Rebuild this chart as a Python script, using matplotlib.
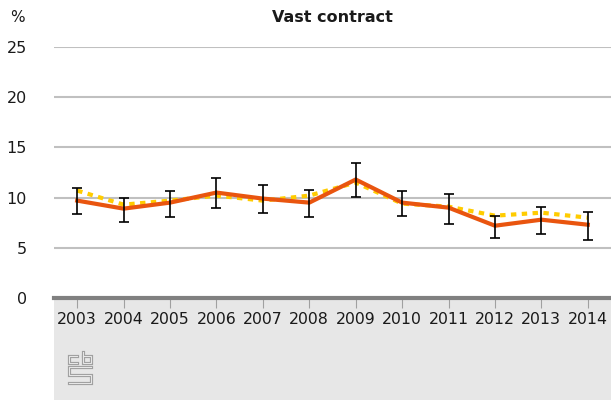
import matplotlib
matplotlib.use("Agg")
import matplotlib.pyplot as plt
from matplotlib.patches import Rectangle
from matplotlib.lines import Line2D

# Data
years = ['2003', '2004', '2005', '2006', '2007', '2008',
         '2009', '2010', '2011', '2012', '2013', '2014']
vast = [9.7, 8.9, 9.5, 10.5, 9.9, 9.5, 11.8, 9.5, 9.0, 7.2, 7.8, 7.3]
vast_low = [8.4, 7.6, 8.1, 9.0, 8.5, 8.1, 10.1, 8.2, 7.4, 6.0, 6.4, 5.8]
vast_high = [11.0, 10.0, 10.7, 12.0, 11.3, 10.8, 13.4, 10.7, 10.4, 8.2, 9.1, 8.6]
trend = [10.7, 9.3, 9.7, 10.2, 9.7, 10.2, 11.5, 9.4, 9.1, 8.2, 8.5, 8.0]

W, H = 611, 400
fig = plt.figure(figsize=(W / 100, H / 100), dpi=100)
plt.rcParams['font.family'] = ['DejaVu Sans']

ax_left, ax_right, ax_top, ax_bottom = 54, 611, 47, 298
ax = fig.add_axes([ax_left / W, 1 - ax_bottom / H,
                   (ax_right - ax_left) / W, (ax_bottom - ax_top) / H])

# grijze band onder de as
band = Rectangle((ax_left / W, 0), (ax_right - ax_left) / W, 1 - ax_bottom / H,
                 transform=fig.transFigure, facecolor='#e7e7e7',
                 edgecolor='none', zorder=-2)
fig.patches.append(band)

# cbs logo (pixel coordinaten, y vanaf boven)
def px_line(xs, ys, **kw):
    return Line2D([x / W for x in xs], [1 - y / H for y in ys],
                  transform=fig.transFigure, **kw)

logo_paths = [
    ([76.7, 68.6, 68.6, 76.7], [355.6, 355.6, 362.8, 362.8]),
    ([83.0, 83.0, 91.4, 91.4, 83.0], [351.7, 362.8, 362.8, 355.6, 355.6]),
    ([91.4, 68.6, 68.6, 91.4, 91.4, 68.6], [367.4, 367.4, 375.0, 375.0, 383.0, 383.0]),
]
for xs, ys in logo_paths:
    fig.lines.append(px_line(xs, ys, color='#a0a0a0', lw=2.3, zorder=-1,
                             solid_joinstyle='miter', solid_capstyle='projecting'))
    fig.lines.append(px_line(xs, ys, color='#e7e7e7', lw=0.75, zorder=-1,
                             solid_joinstyle='miter', solid_capstyle='projecting'))

x = list(range(len(years)))

ax.plot(x, trend, color='#ffcc00', lw=3, linestyle=(0, (1.3, 1.3)),
        dash_capstyle='butt', zorder=3)
ax.plot(x, vast, color='#e9550f', lw=3, zorder=4, solid_joinstyle='miter')
err = [[v - lo for v, lo in zip(vast, vast_low)],
       [hi - v for v, hi in zip(vast, vast_high)]]
ax.errorbar(x, vast, yerr=err, fmt='none', ecolor='black', elinewidth=1.2,
            capsize=3.5, capthick=1.2, zorder=5)

ax.set_xlim(-0.5, len(years) - 0.5)
ax.set_ylim(0, 25)
ax.set_yticks([0, 5, 10, 15, 20, 25])
ax.set_xticks(x)
ax.set_xticklabels(years)
ax.grid(axis='y', color='#c0c0c0', lw=1.5)
ax.set_axisbelow(True)
ax.patch.set_alpha(0)

for s in ['top', 'right', 'left']:
    ax.spines[s].set_visible(False)
ax.spines['bottom'].set_color('#808080')
ax.spines['bottom'].set_linewidth(3)
ax.spines['bottom'].set_zorder(6)

ax.tick_params(axis='y', length=0, pad=19.5, labelsize=11.5, labelcolor='#1a1a1a')
ax.tick_params(axis='x', length=7, width=0.8, color='#a0a0a0', pad=3,
               labelsize=11.3, labelcolor='#1a1a1a')
ax.yaxis.get_major_ticks()[0].gridline.set_visible(False)

fig.text(10 / W, 1 - 18 / H, '%', fontsize=11, color='#1a1a1a', va='center')
fig.text((ax_left + ax_right) / 2 / W, 1 - 17 / H, 'Vast contract',
         fontsize=11.5, fontweight='bold', ha='center', va='center', color='#1a1a1a')

fig.savefig('out.png', dpi=100, facecolor='white')
